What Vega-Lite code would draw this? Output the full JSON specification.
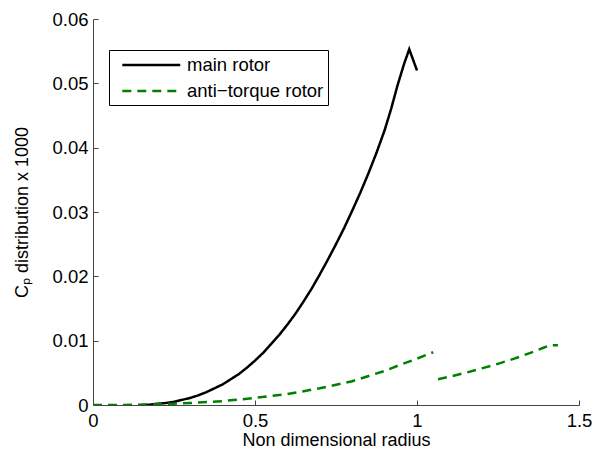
{
  "$schema": "https://vega.github.io/schema/vega-lite/v6.json",
  "autosize": {"type": "none"},
  "padding": {"left": 93, "top": 19, "right": 26, "bottom": 46},
  "width": 486,
  "height": 386,
  "background": "white",
  "config": {
    "view": {"stroke": null},
    "font": "Liberation Sans",
    "axis": {
      "domainColor": "#444444",
      "tickColor": "#444444",
      "domainWidth": 1,
      "tickWidth": 1,
      "tickSize": -5,
      "grid": false,
      "labelFont": "Liberation Sans",
      "labelFontSize": 18.5,
      "labelColor": "black",
      "titleFont": "Liberation Sans",
      "titleFontSize": 18,
      "titleFontWeight": "normal",
      "titleColor": "black"
    }
  },
  "data": {
    "values": [
      {"series": "main rotor", "seg": "main", "r": 0.15, "cp": 0.0},
      {"series": "main rotor", "seg": "main", "r": 0.175, "cp": 0.00005},
      {"series": "main rotor", "seg": "main", "r": 0.2, "cp": 0.0002},
      {"series": "main rotor", "seg": "main", "r": 0.225, "cp": 0.0003},
      {"series": "main rotor", "seg": "main", "r": 0.25, "cp": 0.0005},
      {"series": "main rotor", "seg": "main", "r": 0.275, "cp": 0.0008},
      {"series": "main rotor", "seg": "main", "r": 0.3, "cp": 0.0011},
      {"series": "main rotor", "seg": "main", "r": 0.325, "cp": 0.0015},
      {"series": "main rotor", "seg": "main", "r": 0.35, "cp": 0.002},
      {"series": "main rotor", "seg": "main", "r": 0.375, "cp": 0.0026},
      {"series": "main rotor", "seg": "main", "r": 0.4, "cp": 0.0032},
      {"series": "main rotor", "seg": "main", "r": 0.425, "cp": 0.004},
      {"series": "main rotor", "seg": "main", "r": 0.45, "cp": 0.0048},
      {"series": "main rotor", "seg": "main", "r": 0.475, "cp": 0.0058},
      {"series": "main rotor", "seg": "main", "r": 0.5, "cp": 0.0069},
      {"series": "main rotor", "seg": "main", "r": 0.525, "cp": 0.0081},
      {"series": "main rotor", "seg": "main", "r": 0.55, "cp": 0.0095},
      {"series": "main rotor", "seg": "main", "r": 0.575, "cp": 0.0109},
      {"series": "main rotor", "seg": "main", "r": 0.6, "cp": 0.0125},
      {"series": "main rotor", "seg": "main", "r": 0.625, "cp": 0.0142},
      {"series": "main rotor", "seg": "main", "r": 0.65, "cp": 0.0161},
      {"series": "main rotor", "seg": "main", "r": 0.675, "cp": 0.0181},
      {"series": "main rotor", "seg": "main", "r": 0.7, "cp": 0.0203},
      {"series": "main rotor", "seg": "main", "r": 0.725, "cp": 0.0226},
      {"series": "main rotor", "seg": "main", "r": 0.75, "cp": 0.025},
      {"series": "main rotor", "seg": "main", "r": 0.775, "cp": 0.0275},
      {"series": "main rotor", "seg": "main", "r": 0.8, "cp": 0.0302},
      {"series": "main rotor", "seg": "main", "r": 0.825, "cp": 0.033},
      {"series": "main rotor", "seg": "main", "r": 0.85, "cp": 0.036},
      {"series": "main rotor", "seg": "main", "r": 0.875, "cp": 0.0392},
      {"series": "main rotor", "seg": "main", "r": 0.9, "cp": 0.0427},
      {"series": "main rotor", "seg": "main", "r": 0.92, "cp": 0.046},
      {"series": "main rotor", "seg": "main", "r": 0.94, "cp": 0.0497},
      {"series": "main rotor", "seg": "main", "r": 0.96, "cp": 0.053},
      {"series": "main rotor", "seg": "main", "r": 0.976, "cp": 0.0553},
      {"series": "main rotor", "seg": "main", "r": 1.0, "cp": 0.052},
      {"series": "anti-torque rotor", "seg": "tail1", "r": 0.0, "cp": 0.0},
      {"series": "anti-torque rotor", "seg": "tail1", "r": 0.1, "cp": 0.0},
      {"series": "anti-torque rotor", "seg": "tail1", "r": 0.2, "cp": 0.0001},
      {"series": "anti-torque rotor", "seg": "tail1", "r": 0.3, "cp": 0.0003},
      {"series": "anti-torque rotor", "seg": "tail1", "r": 0.4, "cp": 0.0006},
      {"series": "anti-torque rotor", "seg": "tail1", "r": 0.5, "cp": 0.0011},
      {"series": "anti-torque rotor", "seg": "tail1", "r": 0.6, "cp": 0.0017},
      {"series": "anti-torque rotor", "seg": "tail1", "r": 0.7, "cp": 0.0026},
      {"series": "anti-torque rotor", "seg": "tail1", "r": 0.8, "cp": 0.0037},
      {"series": "anti-torque rotor", "seg": "tail1", "r": 0.9, "cp": 0.0053},
      {"series": "anti-torque rotor", "seg": "tail1", "r": 0.95, "cp": 0.0063},
      {"series": "anti-torque rotor", "seg": "tail1", "r": 1.0, "cp": 0.0072},
      {"series": "anti-torque rotor", "seg": "tail1", "r": 1.05, "cp": 0.0082},
      {"series": "anti-torque rotor", "seg": "tail2", "r": 1.065, "cp": 0.004},
      {"series": "anti-torque rotor", "seg": "tail2", "r": 1.1, "cp": 0.0044},
      {"series": "anti-torque rotor", "seg": "tail2", "r": 1.15, "cp": 0.005},
      {"series": "anti-torque rotor", "seg": "tail2", "r": 1.2, "cp": 0.0057},
      {"series": "anti-torque rotor", "seg": "tail2", "r": 1.25, "cp": 0.0064},
      {"series": "anti-torque rotor", "seg": "tail2", "r": 1.3, "cp": 0.0072},
      {"series": "anti-torque rotor", "seg": "tail2", "r": 1.35, "cp": 0.0081},
      {"series": "anti-torque rotor", "seg": "tail2", "r": 1.39, "cp": 0.0089},
      {"series": "anti-torque rotor", "seg": "tail2", "r": 1.41, "cp": 0.0093},
      {"series": "anti-torque rotor", "seg": "tail2", "r": 1.435, "cp": 0.0093}
    ]
  },
  "mark": {"type": "line", "strokeWidth": 2.5, "clip": true},
  "encoding": {
    "x": {
      "field": "r",
      "type": "quantitative",
      "scale": {"domain": [0, 1.5], "nice": false, "zero": false},
      "axis": {
        "title": "Non dimensional radius",
        "values": [0, 0.5, 1, 1.5],
        "format": "~g",
        "labelPadding": 11,
        "titlePadding": 2,
        "labelFlush": false
      }
    },
    "y": {
      "field": "cp",
      "type": "quantitative",
      "scale": {"domain": [0, 0.06], "nice": false},
      "axis": {
        "title": "Cₚ distribution x 1000",
        "values": [0, 0.01, 0.02, 0.03, 0.04, 0.05, 0.06],
        "format": "~g",
        "labelPadding": 10,
        "titlePadding": 20,
        "labelFlush": false
      }
    },
    "color": {
      "field": "series",
      "type": "nominal",
      "scale": {"domain": ["main rotor", "anti-torque rotor"], "range": ["black", "#008000"]},
      "legend": {
        "title": null,
        "orient": "none",
        "legendX": 16,
        "legendY": 31,
        "direction": "vertical",
        "strokeColor": "black",
        "fillColor": "white",
        "padding": 4,
        "rowPadding": 5,
        "symbolType": "M-0.18,0H5.92",
        "symbolSize": 361,
        "symbolStrokeWidth": 2.5,
        "labelFontSize": 18.5,
        "labelFont": "Liberation Sans",
        "labelColor": "black",
        "labelOffset": 52,
        "labelExpr": "datum.label == 'anti-torque rotor' ? 'anti−torque rotor\u00a0\u00a0\u00a0\u00a0\u00a0\u00a0\u00a0' : datum.label"
      }
    },
    "strokeDash": {
      "field": "series",
      "type": "nominal",
      "scale": {"domain": ["main rotor", "anti-torque rotor"], "range": [[1, 0], [9, 6]]},
      "legend": null
    },
    "detail": {"field": "seg"}
  }
}
